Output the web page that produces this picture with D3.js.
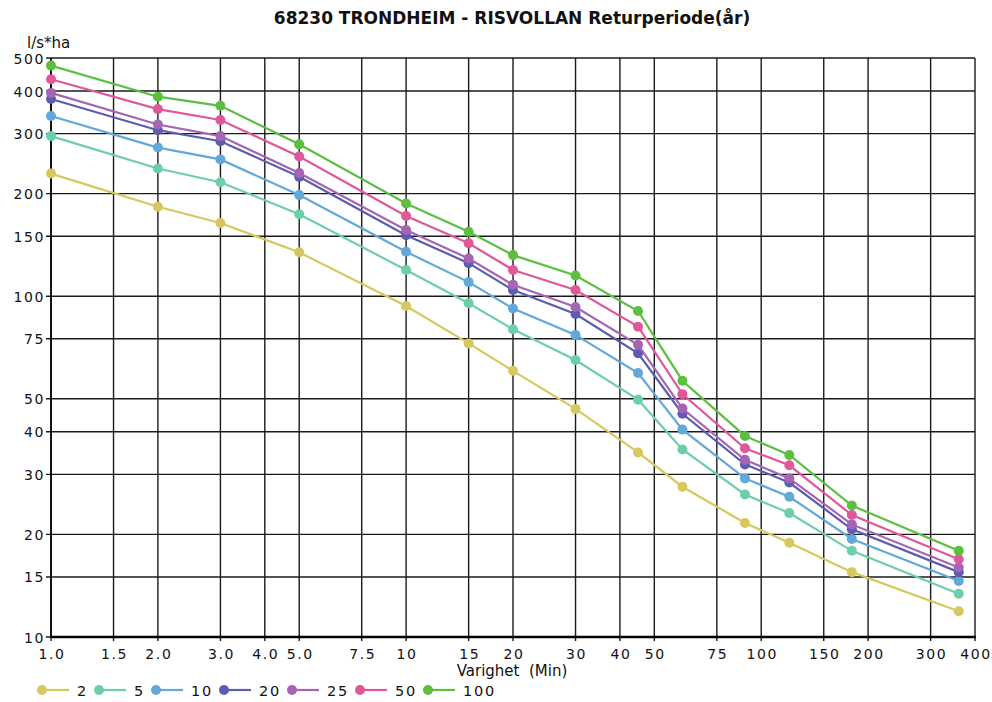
<!DOCTYPE html>
<html>
<head>
<meta charset="utf-8">
<script src="https://cdn.jsdelivr.net/npm/d3@7"></script>
<style>
  html, body { margin: 0; padding: 0; background: #fff; }
  svg { display: block; }
  text { font-family: "DejaVu Sans", sans-serif; fill: #111; }
</style>
</head>
<body>
<svg id="chart" width="992" height="702"></svg>
<script>
const title = "68230 TRONDHEIM - RISVOLLAN Returperiode(år)";
const yLabel = "l/s*ha";
const xLabel = "Varighet  (Min)";
const durations = [1, 2, 3, 5, 10, 15, 20, 30, 45, 60, 90, 120, 180, 360];
const xTicks = [1, 1.5, 2, 3, 4, 5, 7.5, 10, 15, 20, 30, 40, 50, 75, 100, 150, 200, 300, 400];
const xTickLabels = ["1.0","1.5","2.0","3.0","4.0","5.0","7.5","10","15","20","30","40","50","75","100","150","200","300","400"];
const yTicks = [10, 15, 20, 30, 40, 50, 75, 100, 150, 200, 300, 400, 500];
const seriesNames = ["2", "5", "10", "20", "25", "50", "100"];
const seriesColors = ["#d6c860", "#6dcfa8", "#62a8d8", "#5c5cb0", "#a565b5", "#e0589a", "#5cbf40"];
const s2   = [229, 183, 164, 134.5, 93.6, 72.7, 60.4, 46.7, 34.8, 27.6, 21.6, 18.9, 15.5, 11.9];
const s5   = [295, 237, 216, 174, 119.4, 95.3, 80, 65, 49.7, 35.5, 26.2, 23.1, 17.9, 13.4];
const s10  = [338, 273, 252, 198, 135, 110, 92, 77, 59.5, 40.6, 29.2, 25.8, 19.4, 14.6];
const s20  = [379, 307, 285, 224, 151, 125, 104.3, 88.7, 68, 45.2, 32.1, 28.4, 20.7, 15.5];
const s25  = [395, 319, 295, 230, 156.4, 129, 108, 93, 72, 46.8, 33.1, 29.2, 21.4, 16.0];
const s50  = [433, 354, 329, 257, 172, 143, 119.4, 104.3, 81.4, 51.6, 35.8, 31.9, 22.8, 16.9];
const s100 = [475, 385, 362, 279, 187, 154.6, 132, 115, 90.5, 56.5, 38.9, 34.2, 24.3, 17.9];
const seriesValues = [s2, s5, s10, s20, s25, s50, s100];

const svg = d3.select("#chart");
const L = 51, R = 975, T = 58, B = 637;
const x = d3.scaleLog().domain([1, 400]).range([L, R]);
const y = d3.scaleLog().domain([10, 500]).range([B, T]);

// title
svg.append("text").attr("x", 512).attr("y", 24).attr("text-anchor", "middle")
  .style("font-weight", "bold").style("font-size", "17px").text(title);

// grid
const grid = svg.append("g");
grid.selectAll("line.v").data(xTicks).join("line")
  .attr("x1", d => x(d)).attr("x2", d => x(d)).attr("y1", T).attr("y2", B + 4)
  .attr("stroke", "#1a1a1a").attr("stroke-width", 1.4);
grid.selectAll("line.h").data(yTicks).join("line")
  .attr("x1", L - 5).attr("x2", R).attr("y1", d => y(d)).attr("y2", d => y(d))
  .attr("stroke", "#1a1a1a").attr("stroke-width", 1.4);
// axis lines
svg.append("line").attr("x1", L).attr("x2", R + 1).attr("y1", B).attr("y2", B)
  .attr("stroke", "#000").attr("stroke-width", 2.5);
svg.append("line").attr("x1", L).attr("x2", L).attr("y1", T).attr("y2", B)
  .attr("stroke", "#000").attr("stroke-width", 1.6);

// tick labels
svg.append("g").selectAll("text").data(yTicks).join("text")
  .attr("x", L - 6).attr("y", d => y(d) + 5.5).attr("text-anchor", "end")
  .style("font-size", "14px").style("letter-spacing", "1.6px").text(d => d);
svg.append("g").selectAll("text").data(xTicks).join("text")
  .attr("x", d => x(d) + 1).attr("y", 659).attr("text-anchor", "middle")
  .style("font-size", "14px").style("letter-spacing", "1.6px").text((d, i) => xTickLabels[i]);

svg.append("text").attr("x", 27).attr("y", 48).style("font-size", "15px").text(yLabel);
svg.append("text").attr("x", 512).attr("y", 676).attr("text-anchor", "middle")
  .style("font-size", "15px").attr("xml:space", "preserve").text(xLabel);

// series
const line = d3.line().x((d, i) => x(durations[i])).y(d => y(d));
seriesValues.forEach((vals, k) => {
  const g = svg.append("g");
  g.append("path").datum(vals).attr("d", line).attr("fill", "none")
    .attr("stroke", seriesColors[k]).attr("stroke-width", 2.2);
  g.selectAll("circle").data(vals).join("circle")
    .attr("cx", (d, i) => x(durations[i])).attr("cy", d => y(d)).attr("r", 5)
    .attr("fill", seriesColors[k]);
});

// legend
const lg = svg.append("g");
let lx = 42;
const ly = 690;
seriesNames.forEach((name, k) => {
  lg.append("line").attr("x1", lx).attr("x2", lx + 27).attr("y1", ly).attr("y2", ly)
    .attr("stroke", seriesColors[k]).attr("stroke-width", 2.2);
  lg.append("circle").attr("cx", lx).attr("cy", ly).attr("r", 5).attr("fill", seriesColors[k]);
  lg.append("text").attr("x", lx + 35).attr("y", ly + 6)
    .style("font-size", "14.5px").style("letter-spacing", "1.8px").text(name);
  lx = lx + 35 + 11 * name.length + 11;
});
</script>
</body>
</html>
